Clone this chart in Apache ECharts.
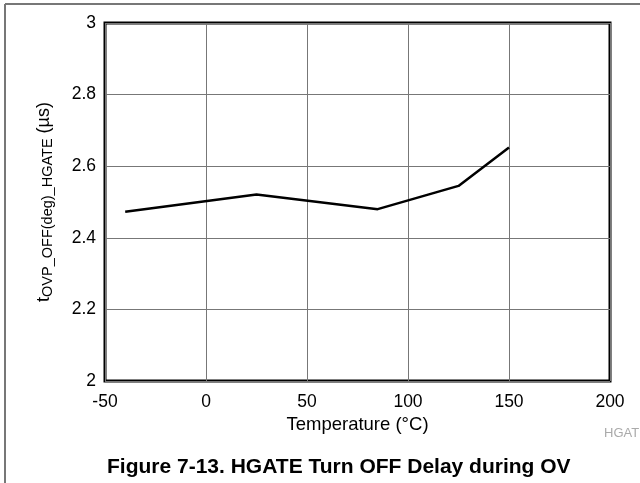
<!DOCTYPE html>
<html>
<head>
<meta charset="utf-8">
<script src="https://cdn.jsdelivr.net/npm/echarts@6/dist/echarts.min.js"></script>
<style>html,body{margin:0;padding:0;background:#fff;}#c{width:640px;height:483px;}</style>
</head>
<body>
<div id="c"></div>
<script>
var temperatures = [-40, 25, 85, 125, 150];
var delays = [2.473, 2.521, 2.48, 2.545, 2.652];
var xTicks = [-50, 0, 50, 100, 150, 200];
var yTicks = [2, 2.2, 2.4, 2.6, 2.8, 3];
var caption = 'Figure 7-13. HGATE Turn OFF Delay during OV';
var xName = 'Temperature (\u00B0C)';
var figTag = 'HGAT';

var chart = echarts.init(document.getElementById('c'), null, {renderer: 'canvas'});
var font = 'Liberation Sans, Arial, Helvetica, sans-serif';
chart.setOption({
  animation: false,
  backgroundColor: '#fff',
  title: {
    text: caption,
    left: 102, top: 452,
    textStyle: {fontFamily: font, fontSize: 21, fontWeight: 'bold', color: '#000'}
  },
  grid: {left: 105, right: 30, top: 23, bottom: 102, show: true, borderColor: '#000', borderWidth: 3, backgroundColor: 'transparent'},
  xAxis: {
    type: 'value', min: xTicks[0], max: xTicks[xTicks.length - 1], interval: 50,
    name: xName, nameLocation: 'middle', nameGap: 32,
    nameTextStyle: {fontFamily: font, fontSize: 18.5, color: '#000'},
    axisLine: {show: false}, axisTick: {show: false},
    axisLabel: {fontFamily: font, fontSize: 17.5, color: '#000', margin: 12},
    splitLine: {show: true, lineStyle: {color: '#777', width: 1}}
  },
  yAxis: {
    type: 'value', min: yTicks[0], max: yTicks[yTicks.length - 1], interval: 0.2,
    name: 't{sub|OVP_OFF(deg)_HGATE} (\u00B5s)', nameLocation: 'middle', nameRotate: 90, nameGap: 50,
    nameTextStyle: {
      fontFamily: font, fontSize: 18, color: '#000',
      rich: {
        sub: {fontFamily: font, fontSize: 14.5, color: '#000', padding: [7, 0, 0, 0]}
      }
    },
    axisLine: {show: false}, axisTick: {show: false},
    axisLabel: {fontFamily: font, fontSize: 17.5, color: '#000', margin: 9,
      formatter: function (v) { return String(Math.round(v * 10) / 10); }},
    splitLine: {show: true, lineStyle: {color: '#777', width: 1}}
  },
  graphic: [
    {type: 'line', shape: {x1: 5, y1: 4, x2: 640, y2: 4}, style: {stroke: '#777', lineWidth: 2}, silent: true},
    {type: 'line', shape: {x1: 5, y1: 4, x2: 5, y2: 483}, style: {stroke: '#777', lineWidth: 2}, silent: true},
    {type: 'text', left: 604, top: 427, style: {text: figTag, fill: '#aaa', font: '13px ' + font}, silent: true}
  ],
  series: [{
    type: 'line',
    data: temperatures.map(function (t, i) { return [t, delays[i]]; }),
    symbol: 'none',
    lineStyle: {color: '#000', width: 2.5},
    z: 5
  }]
});
</script>
</body>
</html>
